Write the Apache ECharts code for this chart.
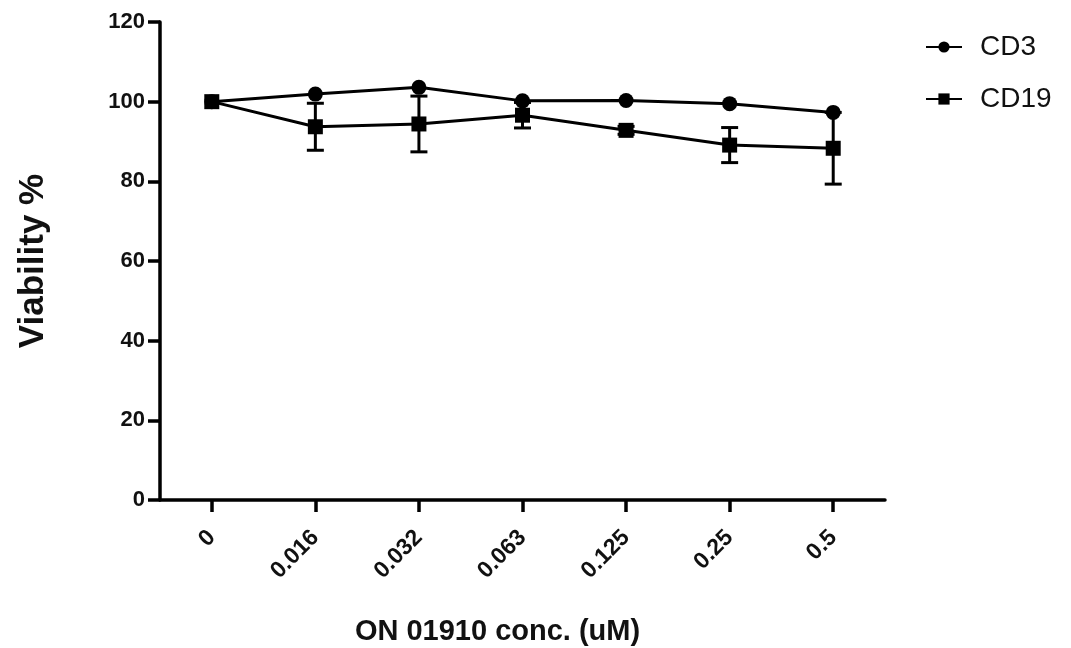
<!DOCTYPE html>
<html>
<head>
<meta charset="utf-8">
<script src="https://cdn.jsdelivr.net/npm/echarts@6/dist/echarts.min.js"></script>
<style>html,body{margin:0;padding:0;background:#fff}#c{width:1071px;height:648px}</style>
</head>
<body>
<div id="c"></div>
<script>
var categories = ['0', '0.016', '0.032', '0.063', '0.125', '0.25', '0.5'];
var cd3 = [100, 101.9, 103.6, 100.2, 100.3, 99.5, 97.3];
var cd3Err = [0, 0, 0, 0, 0, 0, 0];
var cd19 = [100, 93.7, 94.4, 96.6, 92.8, 89.1, 88.3];
var cd19Err = [0, 5.9, 7.0, 3.2, 1.0, 4.4, 9.0];
var yTicks = [0, 20, 40, 60, 80, 100, 120];

function errData(vals, errs) {
  return vals.map(function (v, i) { return [i, v - errs[i], v + errs[i]]; });
}
function errRender(params, api) {
  var x = api.value(0);
  if (api.value(2) - api.value(1) <= 0) return null;
  var lo = api.coord([x, api.value(1)]);
  var hi = api.coord([x, api.value(2)]);
  var half = 8.5;
  var st = { stroke: '#000', lineWidth: 3 };
  return {
    type: 'group',
    children: [
      { type: 'line', shape: { x1: lo[0], y1: lo[1], x2: hi[0], y2: hi[1] }, style: st },
      { type: 'line', shape: { x1: lo[0] - half, y1: lo[1], x2: lo[0] + half, y2: lo[1] }, style: st },
      { type: 'line', shape: { x1: hi[0] - half, y1: hi[1], x2: hi[0] + half, y2: hi[1] }, style: st }
    ]
  };
}

var chart = echarts.init(document.getElementById('c'), null, { renderer: 'canvas' });
var font = 'Liberation Sans, Arial, sans-serif';
chart.setOption({
  animation: false,
  backgroundColor: '#fff',
  grid: { left: 160, right: 186, top: 22, bottom: 148, containLabel: false, outerBoundsMode: 'none' },
  legend: {
    orient: 'vertical',
    left: 925,
    top: 33,
    padding: 0,
    itemGap: 24,
    itemWidth: 36,
    itemHeight: 14,
    textStyle: { fontFamily: font, fontSize: 28, color: '#111', padding: [0, 0, 0, 13] },
    data: ['CD3', 'CD19']
  },
  xAxis: {
    type: 'category',
    data: categories,
    boundaryGap: true,
    name: 'ON 01910 conc. (uM)',
    nameLocation: 'middle',
    nameGap: 117,
    nameTextStyle: { fontFamily: font, fontSize: 29, fontWeight: 'bold', color: '#111', padding: [0, 50, 0, 0] },
    axisLine: { lineStyle: { color: '#000', width: 3.5 } },
    axisTick: { show: true, alignWithLabel: true, length: 12, lineStyle: { color: '#000', width: 3.5 } },
    axisLabel: { show: true, interval: 0, rotate: 45, margin: 34, fontFamily: font, fontSize: 23, fontWeight: 'bold', color: '#111' },
    splitLine: { show: false }
  },
  yAxis: {
    type: 'value',
    min: yTicks[0],
    max: yTicks[yTicks.length - 1],
    interval: 20,
    name: 'Viability %',
    nameLocation: 'middle',
    nameGap: 109,
    nameRotate: 90,
    nameTextStyle: { fontFamily: font, fontSize: 35, fontWeight: 'bold', color: '#111' },
    axisLine: { show: true, lineStyle: { color: '#000', width: 3.5 } },
    axisTick: { show: true, length: 12, lineStyle: { color: '#000', width: 3.5 } },
    axisLabel: { margin: 15, fontFamily: font, fontSize: 22, fontWeight: 'bold', color: '#111' },
    splitLine: { show: false }
  },
  series: [
    {
      type: 'custom', name: 'CD19err', renderItem: errRender, data: errData(cd19, cd19Err),
      encode: { x: 0, y: [1, 2] }, z: 1, silent: true
    },
    {
      type: 'custom', name: 'CD3err', renderItem: errRender, data: errData(cd3, cd3Err),
      encode: { x: 0, y: [1, 2] }, z: 1, silent: true
    },
    {
      name: 'CD3', type: 'line', data: cd3, symbol: 'circle', symbolSize: 15,
      lineStyle: { color: '#000', width: 3 }, itemStyle: { color: '#000' }, z: 3
    },
    {
      name: 'CD19', type: 'line', data: cd19, symbol: 'rect', symbolSize: 15,
      lineStyle: { color: '#000', width: 3 }, itemStyle: { color: '#000' }, z: 3
    }
  ]
});
</script>
</body>
</html>
